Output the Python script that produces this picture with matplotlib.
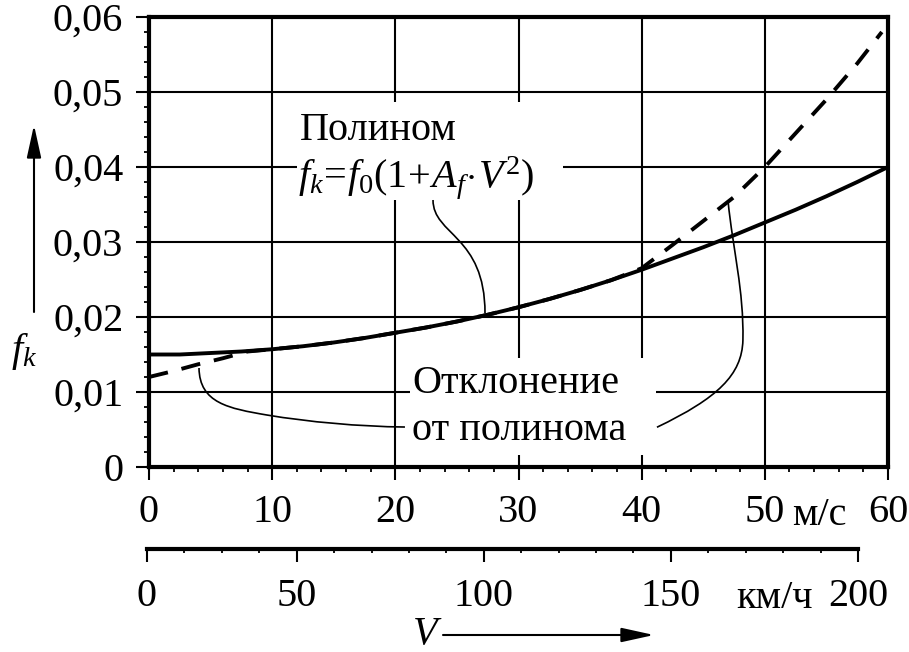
import matplotlib.pyplot as plt
from matplotlib.path import Path
from matplotlib.patches import PathPatch, Rectangle
from matplotlib.ticker import MultipleLocator, FixedLocator, FixedFormatter, FuncFormatter

plt.rcParams['font.family'] = 'Liberation Serif'
plt.rcParams['mathtext.fontset'] = 'custom'
plt.rcParams['mathtext.rm'] = 'Liberation Serif'
plt.rcParams['mathtext.it'] = 'Liberation Serif:italic'
plt.rcParams['font.size'] = 29

# полином f_k = f0 (1 + A_f V^2), V в м/с
v_poly = [0, 2.5, 5, 7.5, 10, 12.5, 15, 17.5, 20, 22.5, 25, 27.5, 30,
          32.5, 35, 37.5, 40, 42.5, 45, 47.5, 50, 52.5, 55, 57.5, 60]
fk_poly = [0.0150, 0.0150, 0.0152, 0.0154, 0.0157, 0.0161, 0.0166, 0.0172,
           0.0179, 0.0186, 0.0194, 0.0203, 0.0213, 0.0224, 0.0236, 0.0249,
           0.0263, 0.0278, 0.0293, 0.0309, 0.0326, 0.0343, 0.0361, 0.0380,
           0.0400]

# фактическая зависимость (отклонение от полинома)
v_real = [0, 2, 4, 6, 8, 10, 12.5, 15, 17.5, 20, 22.5, 25, 27.5, 30, 32.5,
          35, 37.5, 40, 42.5, 45, 47.5, 50, 52.5, 55, 57.5, 59.5]
fk_real = [0.0120, 0.0128, 0.0137, 0.0145, 0.0154, 0.0157, 0.0161, 0.0166,
           0.0172, 0.0179, 0.0186, 0.0194, 0.0203, 0.0213, 0.0224, 0.0236,
           0.0249, 0.0265, 0.0296, 0.0328, 0.0360, 0.0400, 0.0445, 0.0490,
           0.0538, 0.0580]

ms_ticks = [0, 10, 20, 30, 40, 50, 60]
fk_ticks = [0, 0.01, 0.02, 0.03, 0.04, 0.05, 0.06]
kmh_labels = ['0', '50', '100', '150', '200']
kmh_major = [0, 4, 9, 14, 19]   # номера делений шкалы км/ч (10 км/ч на деление)

W, H = 909, 652
fig = plt.figure(figsize=(W / 100, H / 100), dpi=100)
ax = fig.add_axes([149 / W, 1 - 467 / H, 739 / W, 450 / H])

ax.set_xlim(0, 60)
ax.set_ylim(0, 0.06)
ax.set_xticks(ms_ticks)
ax.set_yticks(fk_ticks)
ax.xaxis.set_minor_locator(MultipleLocator(2))
ax.yaxis.set_minor_locator(MultipleLocator(0.002))
ax.xaxis.set_major_formatter(FuncFormatter(lambda x, _: f'{x:g}'))
ax.yaxis.set_major_formatter(
    FuncFormatter(lambda y, _: '0' if abs(y) < 1e-9 else f'{y:.2f}'.replace('.', ',')))
ax.tick_params(which='major', direction='out', length=9.5, width=1.5, color='black')
ax.tick_params(which='minor', direction='out', length=3.5, width=1.3, color='black')
ax.tick_params(axis='x', pad=10)
ax.tick_params(axis='y', pad=9)
for s in ax.spines.values():
    s.set_linewidth(3)
    s.set_color('black')

ax.grid(True, which='major', color='black', lw=1.5)
ax.set_axisbelow(True)

# белые подложки под надписями
ax.add_patch(Rectangle((12.0, 0.0356), 21.6, 0.0131, facecolor='white',
                       edgecolor='none', zorder=1))
ax.add_patch(Rectangle((21.2, 0.0016), 20.0, 0.0129, facecolor='white',
                       edgecolor='none', zorder=1))

ax.plot(v_poly, fk_poly, color='black', lw=2.8, zorder=3, solid_capstyle='butt')
ax.plot(v_real, fk_real, color='black', lw=2.8, zorder=3,
        dashes=(5, 3.6), dash_capstyle='butt')

ax.text(12.26, 0.0436, 'Полином', ha='left', va='baseline', zorder=4)
ax.text(12.1, 0.0373, r'$f_k\!=\!f_{\mathit{0}}(1\!+\!A_f\!\cdot\! V^2)$',
        ha='left', va='baseline', zorder=4)
ax.text(21.35, 0.00987, 'Отклонение', ha='left', va='baseline', zorder=4)
ax.text(21.35, 0.0036, 'от полинома', ha='left', va='baseline', zorder=4)


def leader(pts):
    codes = [Path.MOVETO] + [Path.CURVE4] * (len(pts) - 1)
    ax.add_patch(PathPatch(Path(pts, codes), fill=False, lw=1.2,
                           edgecolor='black', zorder=4))


leader([(23.06, 0.0356), (23.06, 0.0309), (27.28, 0.0309), (27.28, 0.0205)])
leader([(4.06, 0.0132), (4.1, 0.0085), (6.5, 0.0078), (9.58, 0.00693),
        (13.0, 0.0060), (17.0, 0.0054), (20.78, 0.00533)])
leader([(47.01, 0.0355), (47.41, 0.0289), (48.30, 0.0236), (48.22, 0.0169),
        (48.14, 0.0123), (46.19, 0.0092), (41.24, 0.0053)])

fig.text(819 / W, 1 - 525 / H, 'м/с', ha='center', va='baseline')

# вторая шкала скорости, км/ч
ax2 = fig.add_axes([147 / W, 1 - 549 / H, 711 / W, 0.001])
ax2.patch.set_visible(False)
for k in ['top', 'left', 'right']:
    ax2.spines[k].set_visible(False)
ax2.spines['bottom'].set_linewidth(3)
ax2.set_xlim(0, 19)
ax2.set_yticks([])
ax2.xaxis.set_major_locator(FixedLocator(kmh_major))
ax2.xaxis.set_major_formatter(FixedFormatter(kmh_labels))
ax2.xaxis.set_minor_locator(MultipleLocator(1))
ax2.tick_params(which='major', direction='out', length=9, width=1.5, pad=12)
ax2.tick_params(which='minor', direction='out', length=3, width=1.3)
fig.text(775 / W, 1 - 608 / H, 'км/ч', ha='center', va='baseline')

# подписи осей со стрелками
fig.text(24 / W, 1 - 352 / H, r'$f_k$', ha='center', va='center')
fig.text(427 / W, 1 - 644 / H, r'$V$', ha='center', va='baseline')
arrow = dict(arrowstyle='-|>,head_length=1.0,head_width=0.22', lw=1.5,
             color='black', mutation_scale=20, shrinkA=0, shrinkB=0)
ax.annotate('', xy=(34 / W, 1 - 125 / H), xytext=(34 / W, 1 - 312 / H),
            xycoords='figure fraction', textcoords='figure fraction', arrowprops=arrow)
ax.annotate('', xy=(654 / W, 1 - 635 / H), xytext=(443 / W, 1 - 635 / H),
            xycoords='figure fraction', textcoords='figure fraction', arrowprops=arrow)

fig.savefig('out.png', dpi=100)
